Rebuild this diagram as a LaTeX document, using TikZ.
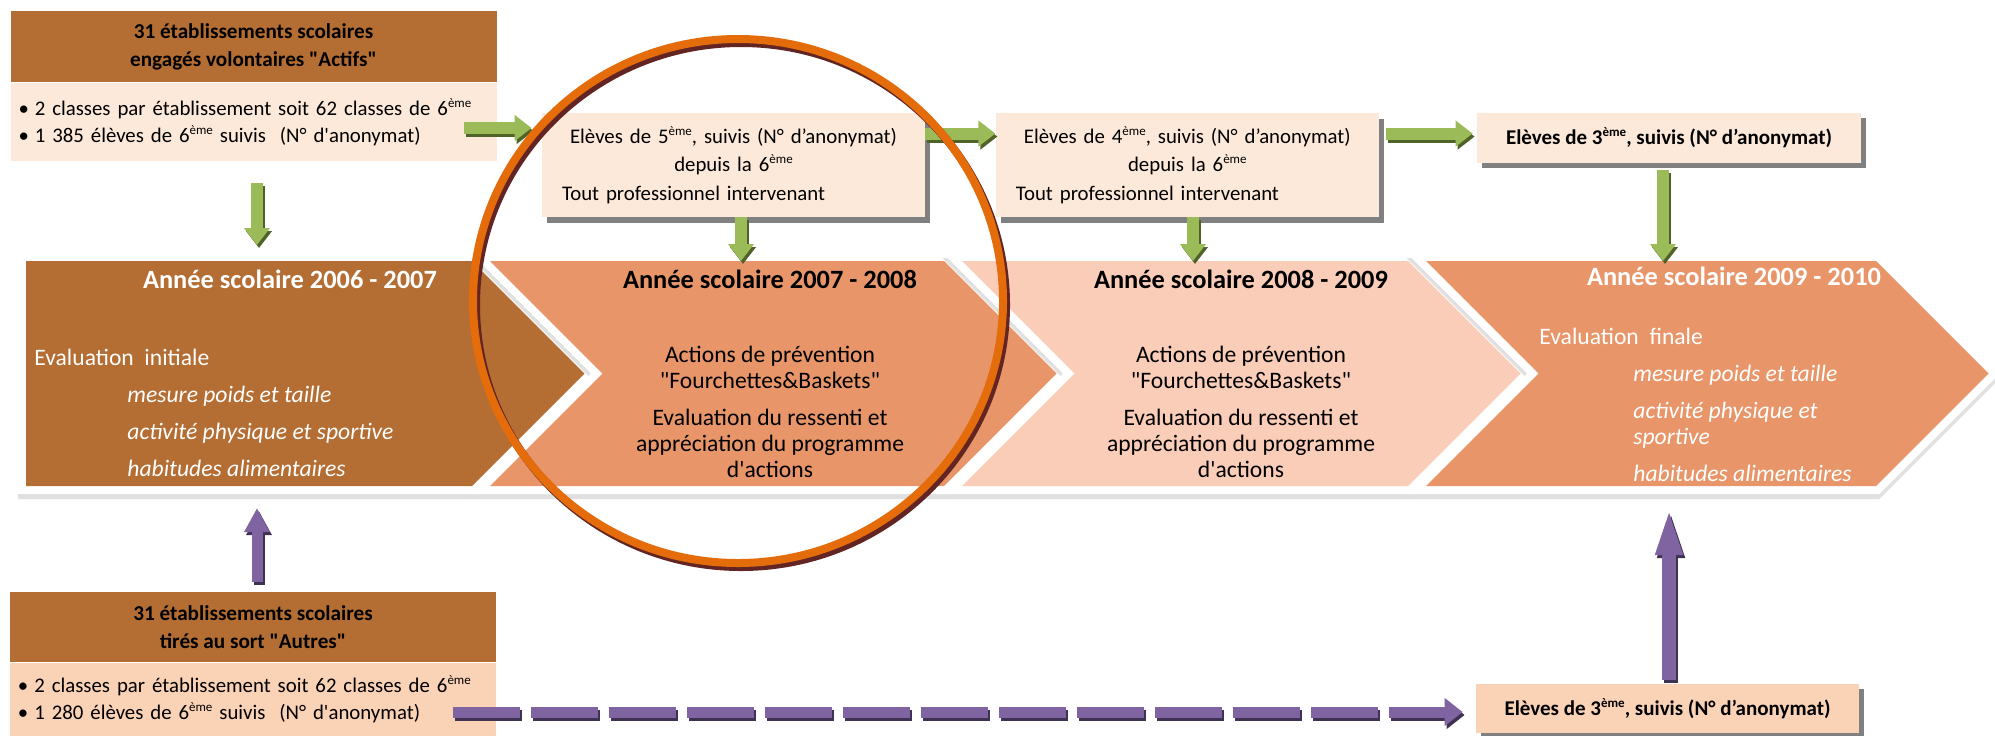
\documentclass[tikz,border=0pt]{standalone}
\usepackage{fontspec}
\setmainfont{Carlito}
\setlength{\parindent}{0pt}
\usetikzlibrary{positioning,arrows.meta,shadows,calc}
\definecolor{brc}{RGB}{180,109,50}
\definecolor{pch}{RGB}{253,233,217}
\definecolor{sal}{RGB}{250,210,182}
\definecolor{orc}{RGB}{232,150,105}
\definecolor{pkc}{RGB}{250,205,184}
\definecolor{grc}{RGB}{155,187,89}
\definecolor{grd}{RGB}{79,98,40}
\definecolor{puc}{RGB}{128,100,162}
\definecolor{pud}{RGB}{63,49,81}
\definecolor{rgc}{RGB}{228,108,10}
\definecolor{rgd}{RGB}{99,37,35}
\newcommand\ordsup[1]{\raisebox{.8ex}{\fontsize{6.5}{7}\selectfont #1}}

\tikzset{
  headbox/.style={rectangle, fill=brc, minimum width=243pt, minimum height=35.5pt, inner sep=0pt, align=center, font=\bfseries\fontsize{10.6}{14}\selectfont},
  listbox/.style={rectangle, text width=235pt, inner xsep=4pt, inner ysep=0pt, align=left, font=\fontsize{10.4}{13.5}\selectfont},
  stagebox/.style={rectangle, fill=pch, text width=171.5pt, inner xsep=10pt, minimum height=52pt, font=\fontsize{10.4}{14.25}\selectfont, drop shadow={shadow xshift=2.5pt, shadow yshift=-3pt, fill=black!50, opacity=1}},
  thirdbox/.style={rectangle, minimum width=192pt, minimum height=25pt, inner sep=0pt, font=\bfseries\fontsize{10.5}{14}\selectfont, drop shadow={shadow xshift=2.5pt, shadow yshift=-2.5pt, fill=black!50, opacity=1}},
  chev/.style={drop shadow={shadow xshift=0pt, shadow yshift=-2.5pt, fill=black!12, draw=black!12, line width=8pt, opacity=1}, preaction={draw=white, line width=8pt}},
  yeartitle/.style={inner sep=0pt, font=\bfseries\fontsize{13.2}{16}\selectfont},
  yearbody/.style={inner sep=0pt, font=\fontsize{11.8}{13}\selectfont},
  garrow/.style={draw=grc, line width=6pt, -{Triangle[width=12.5pt,length=8.5pt]}},
  gshade/.style={garrow, draw=grd, transform canvas={shift={(1pt,-1.5pt)}}},
  parrow/.style={draw=puc, line width=5.5pt, -{Triangle[width=12pt,length=12pt]}},
  pshade/.style={parrow, draw=pud, transform canvas={shift={(1pt,-1.5pt)}}},
  ring/.style={draw=rgc, line width=4pt},
  ringshade/.style={draw=rgd, line width=4pt, transform canvas={shift={(1.5pt,-2pt)}}}
}

\begin{document}
\begin{tikzpicture}[x=0.5pt, y=-0.5pt]
\useasboundingbox (0,0) rectangle (1995,735);

% school years band
\path[chev, fill=brc] (26,261) -- (472,261) -- (584.5,373.5) -- (472,486) -- (26,486) -- cycle;
\path[chev, fill=orc] (490,261) -- (944,261) -- (1056.5,373.5) -- (944,486) -- (490,486) -- (602.5,373.5) -- cycle;
\path[chev, fill=pkc] (962,261) -- (1408,261) -- (1520.5,373.5) -- (1408,486) -- (962,486) -- (1074.5,373.5) -- cycle;
\path[chev, fill=orc] (1426,261) -- (1876,261) -- (1988.5,373.5) -- (1876,486) -- (1426,486) -- (1538.5,373.5) -- cycle;

\coordinate (c1) at (257,261);
\coordinate (c2) at (741,261);
\coordinate (c3) at (1193,261);
\coordinate (c4) at (1663,261);
\coordinate (d1) at (257,486);
\coordinate (d4) at (1669,486);

\node[yeartitle, text=white] (t1) at (290,279) {Année scolaire 2006 - 2007};
\node[yearbody, text=white, anchor=west, align=left] (b1) at (34,413) {Evaluation\ \ initiale\\[5.5pt]\hspace*{46.5pt}\textit{mesure poids et taille}\\[5.5pt]\hspace*{46.5pt}\textit{activité physique et sportive}\\[5.5pt]\hspace*{46.5pt}\textit{habitudes alimentaires}};
\node[yeartitle] (t2) at (770,279) {Année scolaire 2007 - 2008};
\node[yearbody, align=center] (b2) at (770,412) {Actions de prévention\\\textquotedbl Fourchettes\&Baskets\textquotedbl\\[5.5pt]Evaluation du ressenti et\\appréciation du programme\\d\textquotesingle actions};
\node[yeartitle] (t3) at (1241,279) {Année scolaire 2008 - 2009};
\node[yearbody, align=center] (b3) at (1241,412) {Actions de prévention\\\textquotedbl Fourchettes\&Baskets\textquotedbl\\[5.5pt]Evaluation du ressenti et\\appréciation du programme\\d\textquotesingle actions};
\node[yeartitle, text=white] (t4) at (1734,276) {Année scolaire 2009 - 2010};
\node[yearbody, text=white, anchor=west, align=left] (b4) at (1539,405) {Evaluation\ \ finale\\[5.5pt]\hspace*{47pt}\textit{mesure poids et taille}\\[5.5pt]\hspace*{47pt}\textit{activité physique et}\\\hspace*{47pt}\textit{sportive}\\[5.5pt]\hspace*{47pt}\textit{habitudes alimentaires}};

% cohorts
\node[headbox] (acth) at (253.5,46.5) {31 établissements scolaires\\engagés volontaires \textquotedbl Actifs\textquotedbl};
\node[listbox, fill=pch, minimum height=39pt, below=0pt of acth] (actb) {\textbullet\hspace{3pt}2 classes par établissement soit 62 classes de 6\ordsup{ème}\\\textbullet\hspace{3pt}1 385 élèves de 6\ordsup{ème} suivis\ \ (N° d\textquotesingle anonymat)\\[3pt]};
\node[headbox, minimum height=35pt] (othh) at (253,627) {31 établissements scolaires\\tirés au sort \textquotedbl Autres\textquotedbl};
\node[listbox, fill=sal, minimum height=36.5pt, below=0pt of othh] (othb) {\textbullet\hspace{3pt}2 classes par établissement soit 62 classes de 6\ordsup{ème}\\\textbullet\hspace{3pt}1 280 élèves de 6\ordsup{ème} suivis\ \ (N° d\textquotesingle anonymat)};

% follow-up boxes
\node[stagebox] (s5) at (733.5,165) {\centering Elèves de 5\ordsup{ème}, suivis (N° d’anonymat)\\depuis la 6\ordsup{ème}\par\raggedright Tout professionnel intervenant};
\node[stagebox, right=35pt of s5] (s4) {\centering Elèves de 4\ordsup{ème}, suivis (N° d’anonymat)\\depuis la 6\ordsup{ème}\par\raggedright Tout professionnel intervenant};
\node[thirdbox, fill=pch] (e3t) at (1669,138) {Elèves de 3\ordsup{ème}, suivis (N° d’anonymat)};
\node[thirdbox, fill=sal, minimum width=191.5pt, minimum height=24.5pt] (e3b) at (1667.5,708.5) {Elèves de 3\ordsup{ème}, suivis (N° d’anonymat)};

\coordinate (g0) at (464,128);
\coordinate (g1) at ($(s5.north east)!.2!(s5.south east)$);
\coordinate (g2) at ($(s4.north east)!.2!(s4.south east)$);
\coordinate (p0) at (453,712);

% green arrows
\draw[gshade, shorten >=5pt] (g0) -- (s5.west |- g0);
\draw[garrow, shorten >=5pt] (g0) -- (s5.west |- g0);
\draw[gshade] (g1) -- (g1 -| s4.west);
\draw[garrow] (g1) -- (g1 -| s4.west);
\draw[gshade, shorten <=3.5pt, shorten >=2pt] (g2) -- (g2 -| e3t.west);
\draw[garrow, shorten <=3.5pt, shorten >=2pt] (g2) -- (g2 -| e3t.west);
\draw[gshade, shorten <=11pt, shorten >=8pt] (c1 |- actb.south) -- (c1);
\draw[garrow, shorten <=11pt, shorten >=8pt] (c1 |- actb.south) -- (c1);
\draw[gshade] (c2 |- s5.south) -- (c2);
\draw[garrow] (c2 |- s5.south) -- (c2);
\draw[gshade] (c3 |- s4.south) -- (c3);
\draw[garrow] (c3 |- s4.south) -- (c3);
\draw[gshade, shorten <=3.5pt] (c4 |- e3t.south) -- (c4);
\draw[garrow, shorten <=3.5pt] (c4 |- e3t.south) -- (c4);

% purple arrows
\draw[pshade, shorten <=5pt, shorten >=11pt] (d1 |- othh.north) -- (d1);
\draw[parrow, shorten <=5pt, shorten >=11pt] (d1 |- othh.north) -- (d1);
\draw[pshade, line width=7pt, -{Triangle[width=11.5pt,length=26pt]}, shorten <=2pt, shorten >=8.5pt] (d4 |- e3b.north) -- (d4);
\draw[parrow, line width=7pt, -{Triangle[width=11.5pt,length=26pt]}, shorten <=2pt, shorten >=8.5pt] (d4 |- e3b.north) -- (d4);
\draw[pshade, dash pattern=on 33.5pt off 5.5pt, -{Triangle[width=13.5pt,length=9pt]}, shorten >=6.5pt] (p0) -- (p0 -| e3b.west);
\draw[parrow, dash pattern=on 33.5pt off 5.5pt, -{Triangle[width=13.5pt,length=9pt]}, shorten >=6.5pt] (p0) -- (p0 -| e3b.west);

% highlight ring
\draw[ringshade] (738,301) ellipse [x radius=132.5pt, y radius=131pt];
\draw[ring] (738,301) ellipse [x radius=132.5pt, y radius=131pt];

\end{tikzpicture}
\end{document}
